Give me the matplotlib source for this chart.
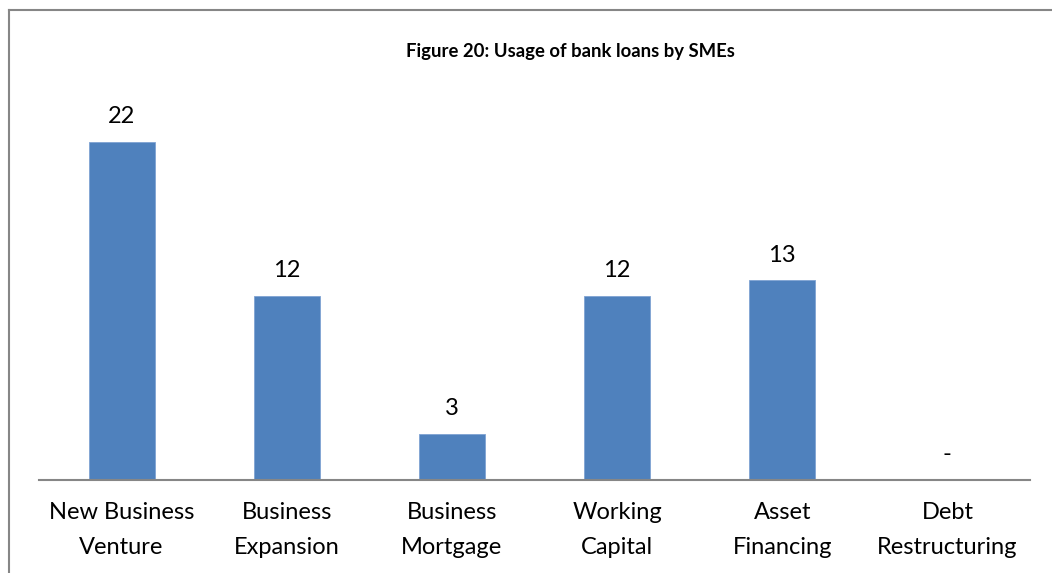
import matplotlib
matplotlib.use("Agg")
import matplotlib.pyplot as plt
from matplotlib.lines import Line2D

categories = ["New Business\nVenture", "Business\nExpansion", "Business\nMortgage",
              "Working\nCapital", "Asset\nFinancing", "Debt\nRestructuring"]
values = [22, 12, 3, 12, 13, 0]
value_labels = ["22", "12", "3", "12", "13", "-"]
title = "Figure 20: Usage of bank loans by SMEs"

plt.rcParams["font.family"] = ["Lato", "DejaVu Sans"]

W, H = 1052, 573
fig = plt.figure(figsize=(W / 100, H / 100), dpi=100)
fig.patch.set_facecolor("white")

# plot area: baseline at y=480 px, spanning x 39..1030 px
ax = fig.add_axes([39 / W, (H - 480) / H, 991 / W, 384 / H])
x = list(range(len(categories)))
ax.bar(x, values, width=0.4, color="#4F81BD", edgecolor="#7FA3D3", linewidth=0.6)
ax.set_xlim(-0.5, len(categories) - 0.5)
ax.set_ylim(0, 25)

for xi, v, lab in zip(x, values, value_labels):
    ax.annotate(lab, (xi, v), xytext=(0, 13.5), textcoords="offset points",
                ha="center", va="baseline", fontsize=17, color="black")

ax.set_xticks(x)
ax.set_xticklabels(categories, fontsize=17, linespacing=1.8)
ax.tick_params(axis="x", length=0, pad=16)
ax.set_yticks([])
for s in ("top", "right", "left"):
    ax.spines[s].set_visible(False)
ax.spines["bottom"].set_color("#868686")
ax.spines["bottom"].set_linewidth(1.5)
ax.set_facecolor("none")

fig.text(570 / W, 1 - 52 / H, title, ha="center", va="center",
         fontsize=13.3, fontweight="bold", color="black")

# chart frame (left and top edges)
fig.add_artist(Line2D([9.5 / W, 9.5 / W], [0, 1 - 9.5 / H], transform=fig.transFigure,
                      color="#868686", linewidth=1.5))
fig.add_artist(Line2D([9.5 / W, 1], [1 - 9.5 / H, 1 - 9.5 / H], transform=fig.transFigure,
                      color="#868686", linewidth=1.5))

fig.savefig("out.png", dpi=100, facecolor="white")
